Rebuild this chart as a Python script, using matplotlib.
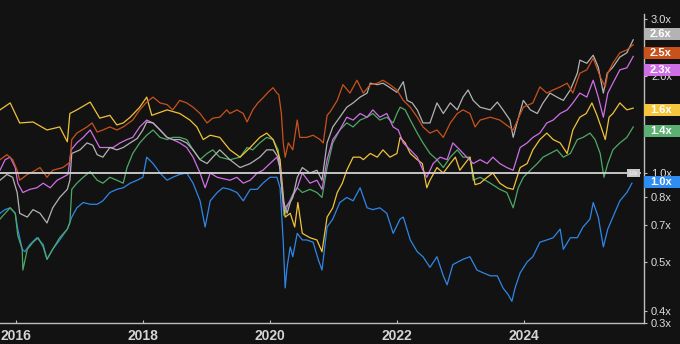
import matplotlib
matplotlib.use("Agg")
import matplotlib.pyplot as plt
from matplotlib.patches import Rectangle
from matplotlib.ticker import NullLocator
import numpy as np

plt.rcParams['font.family'] = ['Liberation Sans', 'DejaVu Sans']

# ---- data: (decimal year, multiple of starting value) ----
yellow = [(2015.75,1.57),(2015.91,1.65),(2016.06,1.43),(2016.27,1.44),(2016.49,1.36),(2016.69,1.39),(2016.81,1.25),(2016.85,1.53),(2016.96,1.57),(2017.17,1.66),(2017.32,1.48),(2017.48,1.51),(2017.59,1.41),(2017.69,1.43),(2017.80,1.49),(2017.95,1.60),(2018.06,1.72),(2018.14,1.51),(2018.38,1.57),(2018.58,1.53),(2018.74,1.46),(2018.85,1.39),(2018.95,1.27),(2019.06,1.31),(2019.21,1.29),(2019.37,1.18),(2019.53,1.12),(2019.69,1.20),(2019.84,1.29),(2019.95,1.33),(2020.05,1.27),(2020.13,1.15),(2020.16,1.10),(2020.24,0.73),(2020.32,0.75),(2020.39,0.68),(2020.44,0.81),(2020.51,0.65),(2020.63,0.63),(2020.74,0.62),(2020.82,0.57),(2020.90,0.73),(2020.99,0.78),(2021.06,0.87),(2021.14,0.93),(2021.21,1.02),(2021.31,1.12),(2021.42,1.12),(2021.47,1.10),(2021.58,1.15),(2021.69,1.12),(2021.78,1.18),(2021.89,1.12),(2022.00,1.15),(2022.05,1.29),(2022.13,1.24),(2022.21,1.15),(2022.32,1.10),(2022.40,1.07),(2022.47,0.90),(2022.52,0.95),(2022.63,1.04),(2022.73,1.00),(2022.84,1.07),(2022.92,1.12),(2022.99,1.02),(2023.07,1.07),(2023.15,1.12),(2023.23,0.92),(2023.31,0.93),(2023.42,0.97),(2023.51,1.00),(2023.62,0.93),(2023.73,0.90),(2023.83,0.89),(2023.94,1.04),(2024.05,1.07),(2024.14,1.18),(2024.25,1.27),(2024.36,1.33),(2024.46,1.27),(2024.57,1.24),(2024.68,1.15),(2024.77,1.36),(2024.88,1.49),(2024.98,1.53),(2025.07,1.65),(2025.15,1.51),(2025.23,1.36),(2025.28,1.27),(2025.34,1.49),(2025.40,1.53),(2025.51,1.65),(2025.62,1.57),(2025.72,1.59)]

orange = [(2015.75,1.10),(2015.86,1.14),(2015.95,1.10),(2016.02,1.02),(2016.06,0.95),(2016.18,0.99),(2016.27,1.01),(2016.38,1.04),(2016.49,0.97),(2016.58,1.02),(2016.74,1.04),(2016.85,1.08),(2016.88,1.27),(2016.96,1.33),(2017.12,1.39),(2017.20,1.43),(2017.28,1.34),(2017.37,1.36),(2017.48,1.39),(2017.59,1.36),(2017.69,1.39),(2017.84,1.46),(2017.95,1.57),(2018.06,1.66),(2018.16,1.72),(2018.27,1.65),(2018.38,1.63),(2018.47,1.57),(2018.58,1.68),(2018.69,1.65),(2018.79,1.60),(2018.90,1.53),(2019.01,1.43),(2019.10,1.48),(2019.21,1.49),(2019.32,1.57),(2019.37,1.53),(2019.48,1.57),(2019.58,1.53),(2019.64,1.44),(2019.73,1.57),(2019.81,1.65),(2019.89,1.71),(2019.97,1.78),(2020.05,1.84),(2020.11,1.77),(2020.14,1.75),(2020.18,1.53),(2020.21,1.24),(2020.24,1.12),(2020.29,1.24),(2020.36,1.18),(2020.43,1.46),(2020.47,1.29),(2020.58,1.29),(2020.68,1.31),(2020.79,1.27),(2020.84,1.24),(2020.90,1.51),(2020.95,1.55),(2021.06,1.68),(2021.15,1.88),(2021.26,1.77),(2021.37,1.94),(2021.47,1.77),(2021.58,1.88),(2021.69,1.90),(2021.78,1.94),(2021.89,1.88),(2022.00,1.81),(2022.10,1.68),(2022.21,1.60),(2022.32,1.49),(2022.41,1.39),(2022.52,1.33),(2022.63,1.36),(2022.73,1.29),(2022.84,1.43),(2022.95,1.53),(2023.04,1.57),(2023.15,1.53),(2023.23,1.39),(2023.31,1.46),(2023.47,1.49),(2023.62,1.46),(2023.83,1.36),(2023.99,1.60),(2024.14,1.65),(2024.25,1.85),(2024.36,1.77),(2024.46,1.81),(2024.57,1.85),(2024.68,1.90),(2024.77,1.77),(2024.88,2.04),(2024.99,2.09),(2025.09,2.27),(2025.20,1.99),(2025.28,1.85),(2025.32,2.04),(2025.40,2.19),(2025.51,2.36),(2025.62,2.41),(2025.72,2.50)]

gray = [(2015.75,0.95),(2015.86,0.99),(2015.95,0.97),(2016.02,0.87),(2016.06,0.75),(2016.18,0.73),(2016.27,0.77),(2016.38,0.75),(2016.49,0.70),(2016.58,0.78),(2016.69,0.84),(2016.81,0.89),(2016.85,0.95),(2016.88,1.15),(2017.01,1.18),(2017.12,1.24),(2017.21,1.22),(2017.28,1.14),(2017.37,1.12),(2017.48,1.20),(2017.59,1.18),(2017.69,1.20),(2017.80,1.24),(2017.91,1.28),(2018.00,1.36),(2018.06,1.44),(2018.16,1.43),(2018.27,1.36),(2018.38,1.29),(2018.47,1.27),(2018.58,1.27),(2018.69,1.24),(2018.79,1.18),(2018.90,1.10),(2019.01,1.07),(2019.10,1.12),(2019.21,1.18),(2019.37,1.10),(2019.53,1.04),(2019.69,1.07),(2019.84,1.12),(2019.95,1.18),(2020.05,1.18),(2020.13,1.12),(2020.16,1.02),(2020.21,0.82),(2020.27,0.75),(2020.32,0.81),(2020.36,0.84),(2020.43,0.97),(2020.51,1.04),(2020.63,1.00),(2020.74,1.02),(2020.82,0.95),(2020.90,1.24),(2020.99,1.39),(2021.10,1.49),(2021.21,1.60),(2021.31,1.65),(2021.42,1.72),(2021.53,1.77),(2021.58,1.90),(2021.69,1.88),(2021.78,1.90),(2021.89,1.84),(2022.00,1.78),(2022.10,1.92),(2022.16,1.68),(2022.24,1.65),(2022.32,1.57),(2022.41,1.43),(2022.52,1.43),(2022.63,1.65),(2022.73,1.53),(2022.84,1.65),(2022.95,1.57),(2023.04,1.72),(2023.12,1.81),(2023.20,1.68),(2023.31,1.60),(2023.47,1.57),(2023.58,1.66),(2023.67,1.57),(2023.78,1.46),(2023.83,1.29),(2023.89,1.43),(2023.99,1.68),(2024.10,1.57),(2024.21,1.53),(2024.30,1.65),(2024.41,1.77),(2024.52,1.72),(2024.62,1.68),(2024.73,1.81),(2024.84,2.04),(2024.88,2.24),(2024.99,2.19),(2025.09,2.32),(2025.17,2.13),(2025.25,1.77),(2025.31,2.04),(2025.40,2.13),(2025.51,2.29),(2025.62,2.36),(2025.72,2.59)]

magenta = [(2015.75,1.02),(2015.83,1.10),(2015.91,1.12),(2015.99,1.04),(2016.03,0.93),(2016.11,0.87),(2016.22,0.89),(2016.33,0.90),(2016.43,0.93),(2016.54,0.90),(2016.65,0.95),(2016.74,0.97),(2016.82,0.99),(2016.87,1.18),(2016.96,1.24),(2017.06,1.29),(2017.17,1.36),(2017.28,1.24),(2017.32,1.20),(2017.44,1.20),(2017.53,1.20),(2017.64,1.24),(2017.75,1.27),(2017.84,1.29),(2017.95,1.39),(2018.06,1.46),(2018.16,1.43),(2018.27,1.36),(2018.38,1.29),(2018.47,1.27),(2018.58,1.24),(2018.69,1.20),(2018.79,1.12),(2018.90,1.00),(2018.98,0.90),(2019.06,1.00),(2019.17,0.97),(2019.37,0.95),(2019.48,0.97),(2019.58,0.93),(2019.69,0.95),(2019.80,1.00),(2019.89,1.02),(2020.00,1.07),(2020.11,1.12),(2020.16,1.04),(2020.22,0.77),(2020.32,0.82),(2020.43,0.90),(2020.51,1.00),(2020.63,0.93),(2020.74,0.95),(2020.82,0.89),(2020.90,1.10),(2020.99,1.27),(2021.10,1.36),(2021.21,1.49),(2021.31,1.46),(2021.42,1.53),(2021.53,1.49),(2021.62,1.57),(2021.73,1.49),(2021.84,1.53),(2021.94,1.39),(2022.02,1.36),(2022.10,1.24),(2022.21,1.18),(2022.32,1.12),(2022.41,1.02),(2022.47,0.97),(2022.57,1.07),(2022.68,1.12),(2022.79,1.10),(2022.88,1.24),(2022.99,1.18),(2023.10,1.12),(2023.20,1.07),(2023.31,1.10),(2023.42,1.07),(2023.51,1.12),(2023.62,1.07),(2023.73,1.04),(2023.83,1.02),(2023.94,1.20),(2024.05,1.24),(2024.14,1.29),(2024.25,1.33),(2024.36,1.43),(2024.46,1.46),(2024.57,1.53),(2024.68,1.57),(2024.77,1.65),(2024.88,1.77),(2024.99,1.72),(2025.09,1.94),(2025.17,1.72),(2025.25,1.49),(2025.32,1.77),(2025.40,1.90),(2025.51,2.09),(2025.62,2.12),(2025.72,2.30)]

green = [(2015.75,0.72),(2015.83,0.75),(2015.91,0.78),(2015.99,0.75),(2016.03,0.64),(2016.10,0.58),(2016.11,0.50),(2016.18,0.58),(2016.27,0.61),(2016.35,0.63),(2016.43,0.59),(2016.49,0.54),(2016.58,0.58),(2016.69,0.63),(2016.81,0.67),(2016.85,0.70),(2016.88,0.89),(2016.96,0.93),(2017.06,0.97),(2017.17,1.01),(2017.28,0.95),(2017.37,0.93),(2017.48,0.97),(2017.59,0.95),(2017.69,0.93),(2017.75,1.04),(2017.84,1.15),(2017.95,1.24),(2018.06,1.31),(2018.16,1.36),(2018.27,1.29),(2018.38,1.27),(2018.47,1.29),(2018.58,1.29),(2018.69,1.27),(2018.79,1.18),(2018.90,1.10),(2019.01,1.15),(2019.10,1.18),(2019.21,1.12),(2019.37,1.10),(2019.53,1.12),(2019.64,1.20),(2019.73,1.18),(2019.84,1.24),(2019.95,1.29),(2020.05,1.27),(2020.13,1.18),(2020.16,1.04),(2020.22,0.74),(2020.29,0.80),(2020.36,0.86),(2020.43,0.90),(2020.51,0.87),(2020.63,0.89),(2020.74,0.87),(2020.82,0.84),(2020.90,1.04),(2020.99,1.24),(2021.10,1.36),(2021.21,1.43),(2021.31,1.39),(2021.42,1.46),(2021.53,1.49),(2021.62,1.53),(2021.73,1.46),(2021.84,1.49),(2021.94,1.43),(2022.00,1.53),(2022.05,1.60),(2022.13,1.57),(2022.21,1.46),(2022.32,1.33),(2022.41,1.24),(2022.52,1.15),(2022.63,1.10),(2022.73,1.04),(2022.84,1.12),(2022.95,1.18),(2023.04,1.12),(2023.15,1.12),(2023.20,0.95),(2023.31,0.97),(2023.47,0.93),(2023.62,0.89),(2023.73,0.87),(2023.83,0.78),(2023.91,0.90),(2023.99,0.97),(2024.10,1.02),(2024.21,1.07),(2024.30,1.12),(2024.41,1.15),(2024.52,1.18),(2024.62,1.12),(2024.73,1.15),(2024.84,1.27),(2024.93,1.29),(2025.04,1.33),(2025.12,1.27),(2025.20,1.15),(2025.26,0.97),(2025.32,1.07),(2025.40,1.18),(2025.51,1.24),(2025.62,1.29),(2025.72,1.39)]

blue = [(2015.75,0.75),(2015.83,0.77),(2015.91,0.78),(2015.99,0.75),(2016.03,0.67),(2016.10,0.58),(2016.14,0.57),(2016.22,0.60),(2016.33,0.63),(2016.43,0.60),(2016.49,0.54),(2016.58,0.58),(2016.69,0.62),(2016.81,0.67),(2016.88,0.73),(2016.96,0.78),(2017.06,0.81),(2017.17,0.80),(2017.28,0.80),(2017.37,0.82),(2017.48,0.87),(2017.59,0.89),(2017.69,0.90),(2017.80,0.93),(2017.91,0.95),(2018.00,0.97),(2018.06,1.12),(2018.16,1.07),(2018.27,1.00),(2018.38,0.95),(2018.47,0.97),(2018.58,0.99),(2018.69,1.00),(2018.79,0.93),(2018.90,0.82),(2018.98,0.68),(2019.06,0.82),(2019.17,0.87),(2019.26,0.90),(2019.37,0.89),(2019.48,0.87),(2019.58,0.82),(2019.69,0.89),(2019.80,0.89),(2019.89,0.93),(2020.00,0.97),(2020.11,0.97),(2020.16,0.90),(2020.21,0.61),(2020.24,0.44),(2020.27,0.51),(2020.32,0.59),(2020.36,0.55),(2020.43,0.65),(2020.51,0.62),(2020.58,0.62),(2020.68,0.61),(2020.76,0.54),(2020.82,0.50),(2020.90,0.68),(2020.99,0.72),(2021.10,0.81),(2021.21,0.84),(2021.31,0.82),(2021.42,0.90),(2021.53,0.78),(2021.62,0.77),(2021.73,0.78),(2021.84,0.75),(2021.94,0.65),(2022.05,0.72),(2022.10,0.73),(2022.21,0.62),(2022.32,0.57),(2022.41,0.55),(2022.52,0.51),(2022.63,0.55),(2022.73,0.48),(2022.79,0.45),(2022.88,0.52),(2023.04,0.54),(2023.15,0.55),(2023.26,0.50),(2023.36,0.49),(2023.47,0.48),(2023.58,0.48),(2023.67,0.44),(2023.75,0.42),(2023.81,0.40),(2023.86,0.44),(2023.94,0.49),(2024.05,0.53),(2024.14,0.55),(2024.25,0.61),(2024.36,0.62),(2024.46,0.63),(2024.57,0.67),(2024.62,0.58),(2024.73,0.63),(2024.84,0.63),(2024.93,0.68),(2025.04,0.72),(2025.09,0.81),(2025.17,0.73),(2025.25,0.59),(2025.32,0.67),(2025.40,0.73),(2025.51,0.82),(2025.62,0.87),(2025.70,0.93)]

# end-of-line labels
end_labels = ["2.6x", "2.5x", "2.3x", "1.6x", "1.4x", "1.0x"]
label_y = [2.70, 2.36, 2.08, 1.57, 1.35, 0.94]

# axis ticks
x_ticks = [2016, 2018, 2020, 2022, 2024]
x_tick_labels = ["2016", "2018", "2020", "2022", "2024"]
y_ticks = [0.343, 0.373, 0.53, 0.69, 0.843, 1.0, 2.0, 3.0]
y_tick_labels = ["0.3x", "0.4x", "0.5x", "0.7x", "0.8x", "1.0x", "2.0x", "3.0x"]

# ---- style ----
BG = '#121212'
C_BLUE = '#2f86e6'
C_GREEN = '#4fa865'
C_YELLOW = '#f0c23a'
C_MAGENTA = '#cf6fe6'
C_GRAY = '#b3b3b3'
C_ORANGE = '#c9521c'

draw_order = [(blue, C_BLUE), (green, C_GREEN), (yellow, C_YELLOW),
              (magenta, C_MAGENTA), (gray, C_GRAY), (orange, C_ORANGE)]
label_colors = [C_GRAY, C_ORANGE, C_MAGENTA, '#f4c63d', '#5cb072', '#2f8cf0']

fig = plt.figure(figsize=(6.8, 3.44), dpi=100, facecolor=BG)
ax = fig.add_axes([0, 21 / 344, 644 / 680, 309 / 344], facecolor=BG)
ax.set_yscale('log')
ax.set_xlim(2015.75, 2025.89)
ax.set_ylim(0.3426, 3.114)

for data, col in draw_order:
    t, v = zip(*data)
    ax.plot(t, v, color=col, lw=0.9, zorder=3)

# reference line at 1.0x
ax.axhline(1.0, xmin=0, xmax=640 / 644, color='#d2d2d2', lw=1.3, zorder=6)
ytr = ax.get_yaxis_transform()
ax.add_patch(Rectangle((627 / 644, np.exp(-4 / 140)), 13 / 644,
                       np.exp(4 / 140) - np.exp(-4 / 140),
                       transform=ytr, facecolor='#c9c9c9', edgecolor='none', zorder=7))
ax.text(633.5 / 644, 1.0, "1.0x", transform=ytr, fontsize=3.5, color='white',
        ha='center', va='center', zorder=8)

# axes styling
for s in ['left', 'top']:
    ax.spines[s].set_visible(False)
for s in ['right', 'bottom']:
    ax.spines[s].set_color('#bdbdbd')
    ax.spines[s].set_linewidth(1.0)

ax.yaxis.tick_right()
ax.set_yticks(y_ticks)
ax.set_yticklabels(y_tick_labels)
ax.yaxis.set_minor_locator(NullLocator())
ax.tick_params(axis='y', which='major', direction='out', length=2, width=0.8,
               colors='#bdbdbd', labelcolor='#dcdcdc', labelsize=8, pad=3)

ax.set_xticks(x_ticks)
ax.set_xticklabels(x_tick_labels, fontweight='bold')
ax.tick_params(axis='x', which='major', direction='in', length=2, width=0.8,
               colors='#bdbdbd', labelcolor='#d4d4d4', labelsize=10, pad=4)

# end labels (colored boxes at the right)
box_w = 36 / 644
half_h = 6 / 140
for txt, yv, col in zip(end_labels, label_y, label_colors):
    ax.add_patch(Rectangle((1.0, yv * np.exp(-half_h)), box_w,
                           yv * np.exp(half_h) - yv * np.exp(-half_h),
                           transform=ytr, facecolor=col, edgecolor='none',
                           clip_on=False, zorder=20))
    ax.text(1.0 + box_w / 2 - 0.002, yv, txt, transform=ytr, color='white',
            fontsize=8, fontweight='bold', ha='center', va='center',
            clip_on=False, zorder=21)

fig.savefig('out.png', dpi=100, facecolor=BG)
